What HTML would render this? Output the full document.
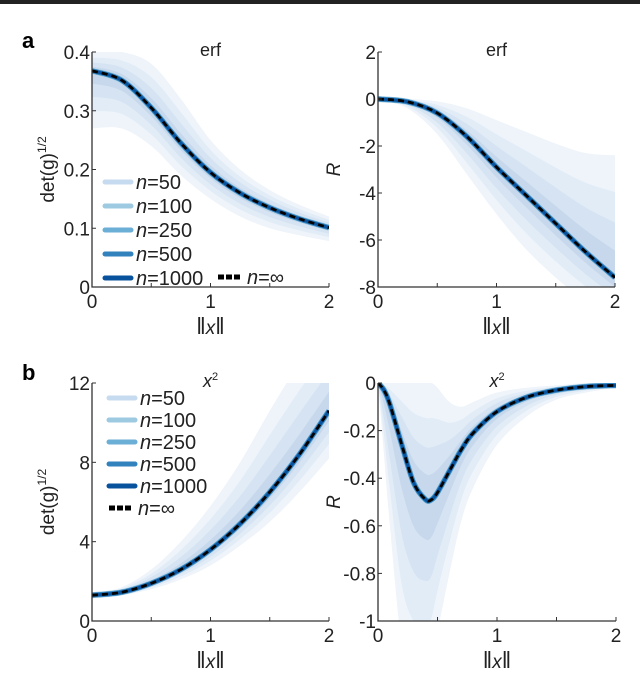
<!DOCTYPE html>
<html><head><meta charset="utf-8"><style>
body{margin:0;background:#fff}
svg{display:block;font-family:"Liberation Sans",Arial,sans-serif}
</style></head><body>
<svg id="s" width="640" height="674" viewBox="0 0 640 674">
<rect x="0" y="0" width="640" height="4" fill="#222"/>
<text x="22" y="48" font-size="22" font-weight="bold">a</text>
<text x="22" y="380" font-size="22" font-weight="bold">b</text>
</svg>
<script>
// ---- data ----
const xsA = [0,0.25,0.5,0.75,1,1.25,1.5,1.75,2];
const detErf = [0.368,0.352,0.305,0.245,0.195,0.160,0.135,0.116,0.101];
const detErfBandHi = [0.40,0.40,0.38,0.32,0.25,0.20,0.165,0.14,0.12];
const detErfBandLo = [0.27,0.27,0.24,0.19,0.15,0.12,0.10,0.088,0.078];
const rErf = [0,-0.12,-0.6,-1.6,-2.9,-4.1,-5.3,-6.5,-7.6];
const rErfBandHi = [0,0,-0.1,-0.4,-0.9,-1.4,-1.9,-2.3,-2.4];
const rErfBandLo = [0,-0.4,-1.5,-3.2,-4.9,-6.4,-7.6,-8.6,-9.4];
const detX2 = [1.3,1.45,1.9,2.6,3.6,4.9,6.5,8.4,10.6];
const detX2BandHi = [1.4,1.7,2.6,4.0,5.8,8.0,10.6,13,15];
const detX2BandLo = [1.2,1.3,1.6,2.1,2.8,3.8,5.0,6.5,8.2];
const xsB = [0,0.05,0.1,0.2,0.3,0.4,0.45,0.5,0.6,0.7,0.8,1,1.25,1.5,1.75,2];
const rX2 = [0,-0.03,-0.09,-0.26,-0.42,-0.49,-0.49,-0.46,-0.37,-0.28,-0.21,-0.12,-0.06,-0.03,-0.015,-0.01];
const rX2BandHi = [0,0,0,0,0,0,0,-0.02,-0.08,-0.1,-0.08,-0.04,-0.02,-0.01,0,0];
const rX2BandLo = [0,-0.3,-0.6,-1.1,-1.25,-1.25,-1.2,-1.05,-0.8,-0.58,-0.44,-0.26,-0.14,-0.07,-0.04,-0.02];
const legendN = ["n=50","n=100","n=250","n=500","n=1000"];
const lineCols = ["#c6dbef","#9ecae1","#6baed6","#3182bd","#08519c"];
const ticksX = [0,1,2];

const NS="http://www.w3.org/2000/svg", S=document.getElementById('s');
function el(t,a,p){const e=document.createElementNS(NS,t);for(const k in a)e.setAttribute(k,a[k]);(p||S).appendChild(e);return e;}
function smooth(P){let d='M'+P[0][0]+','+P[0][1];
  for(let i=0;i<P.length-1;i++){const p0=P[i-1]||P[i],p1=P[i],p2=P[i+1],p3=P[i+2]||p2;
    d+=`C${p1[0]+(p2[0]-p0[0])/6},${p1[1]+(p2[1]-p0[1])/6} ${p2[0]-(p3[0]-p1[0])/6},${p2[1]-(p3[1]-p1[1])/6} ${p2[0]},${p2[1]}`;}
  return d;}
let cid=0;
function plot(o){
  const X=v=>o.x0+(v-0)/2*(o.x1-o.x0), Y=v=>o.y1-(v-o.ymin)/(o.ymax-o.ymin)*(o.y1-o.y0);
  const g=el('g',{});
  
  
  const id='c'+(cid++);
  const cp=el('clipPath',{id:id},g);el('rect',{x:o.x0,y:o.y0,width:o.x1-o.x0,height:o.y1-o.y0},cp);
  const cg=el('g',{'clip-path':'url(#'+id+')'},g);
  const lvls=[[1,'#eef4fa'],[0.7,'#e2ecf7'],[0.45,'#d5e3f2'],[0.22,'#c8d8ec']];
  lvls.forEach((L,k)=>{
    const up=o.xs.map((x,i)=>[X(x),Y(o.m[i]+(o.hi[i]-o.m[i])*L[0])]);
    const lo=o.xs.map((x,i)=>[X(x),Y(o.m[i]+(o.lo[i]-o.m[i])*L[0])]).reverse();
    const b=el('path',{d:smooth(up)+smooth(lo).replace('M','L')+'Z',fill:L[1]},cg);
    
    
  });
  const pd=smooth(o.xs.map((x,i)=>[X(x),Y(o.m[i])]));
  [[lineCols[1],6],[lineCols[3],5],[lineCols[4],3]].forEach(c=>{
    const l=el('path',{d:pd,fill:'none',stroke:c[0],'stroke-width':c[1],'stroke-linejoin':'round'},cg);
    
    
  });
  const d=el('path',{d:pd,fill:'none',stroke:'#000','stroke-width':2.8,'stroke-dasharray':'6,4'},cg);
  
  
  el('path',{d:`M${o.x0},${o.y0}V${o.y1}H${o.x1}`,fill:'none',stroke:'#333','stroke-width':1.3},g);
  [0,0.5,1,1.5,2].forEach(t=>el('line',{x1:X(t),x2:X(t),y1:o.y1,y2:o.y1-4,stroke:'#333'},g));
  ticksX.forEach(t=>{const e=el('text',{x:X(t),y:o.y1+21,'font-size':19,'text-anchor':'middle',fill:'#222'},g);e.textContent=t;
    });
  o.yt.forEach(t=>{el('line',{x1:o.x0,x2:o.x0+4,y1:Y(t),y2:Y(t),stroke:'#333'},g);
    const e=el('text',{x:o.x0-2,y:Y(t)+7,'font-size':19,'text-anchor':'end',fill:'#222'},g);e.textContent=t;
    });
  const xl=el('text',{x:(o.x0+o.x1)/2,y:o.y1+47,'font-size':23,'text-anchor':'middle',fill:'#222'},g);
  xl.innerHTML='‖<tspan font-style="italic" font-size="19">x</tspan>‖';
  
  const yl=el('text',{x:0,y:0,'font-size':19,'text-anchor':'middle',fill:'#222',transform:`translate(${o.x0-38},${(o.y0+o.y1)/2}) rotate(-90)`},g);
  yl.innerHTML=o.ylab;
  
  const tt=el('text',{x:(o.x0+o.x1)/2,y:o.y0+4,'font-size':18,'text-anchor':'middle',fill:'#222'},g);
  tt.innerHTML=o.title;
  
}
const detLab='det(g)<tspan font-size="12" dy="-8">1/2</tspan>';
const Rlab='<tspan font-style="italic">R</tspan>';
const x2t='<tspan font-style="italic">x</tspan><tspan font-size="11" dy="-7">2</tspan>';
plot({name:'plot-a-det',x0:92,x1:329,y0:52,y1:287,ymin:0,ymax:0.4,xs:xsA,m:detErf,hi:detErfBandHi,lo:detErfBandLo,yt:[0,0.1,0.2,0.3,0.4],ylab:detLab,title:'erf'});
plot({name:'plot-a-R',x0:378,x1:615,y0:52,y1:287,ymin:-8,ymax:2,xs:xsA,m:rErf,hi:rErfBandHi,lo:rErfBandLo,yt:[-8,-6,-4,-2,0,2],ylab:Rlab,title:'erf'});
plot({name:'plot-b-det',x0:92,x1:329,y0:383,y1:621,ymin:0,ymax:12,xs:xsA,m:detX2,hi:detX2BandHi,lo:detX2BandLo,yt:[0,4,8,12],ylab:detLab,title:x2t});
plot({name:'plot-b-R',x0:378,x1:616,y0:383,y1:621,ymin:-1,ymax:0,xs:xsB,m:rX2,hi:rX2BandHi,lo:rX2BandLo,yt:[-1,-0.8,-0.6,-0.4,-0.2,0],ylab:Rlab,title:x2t});
function legend(x,y0,dy,infPos){
  const g=el('g',{});
  
  
  legendN.forEach((n,i)=>{const y=y0+i*dy;
    el('line',{x1:x,x2:x+26,y1:y,y2:y,stroke:lineCols[i],'stroke-width':5,'stroke-linecap':'round'},g);
    const t=el('text',{x:x+31,y:y+7,'font-size':20,fill:'#222'},g);
    t.innerHTML='<tspan font-style="italic">n</tspan>='+n.slice(2);
    });
  const [ix,iy]=infPos;
  el('line',{x1:ix,x2:ix+24,y1:iy,y2:iy,stroke:'#000','stroke-width':5,'stroke-dasharray':'6,2'},g);
  const t=el('text',{x:ix+29,y:iy+7,'font-size':20,fill:'#222'},g);
  t.innerHTML='<tspan font-style="italic">n</tspan>=∞';
  
}
legend(105,182,24,[218,277]);
legend(109,398,22,[109,508]);
</script>
</body></html>
